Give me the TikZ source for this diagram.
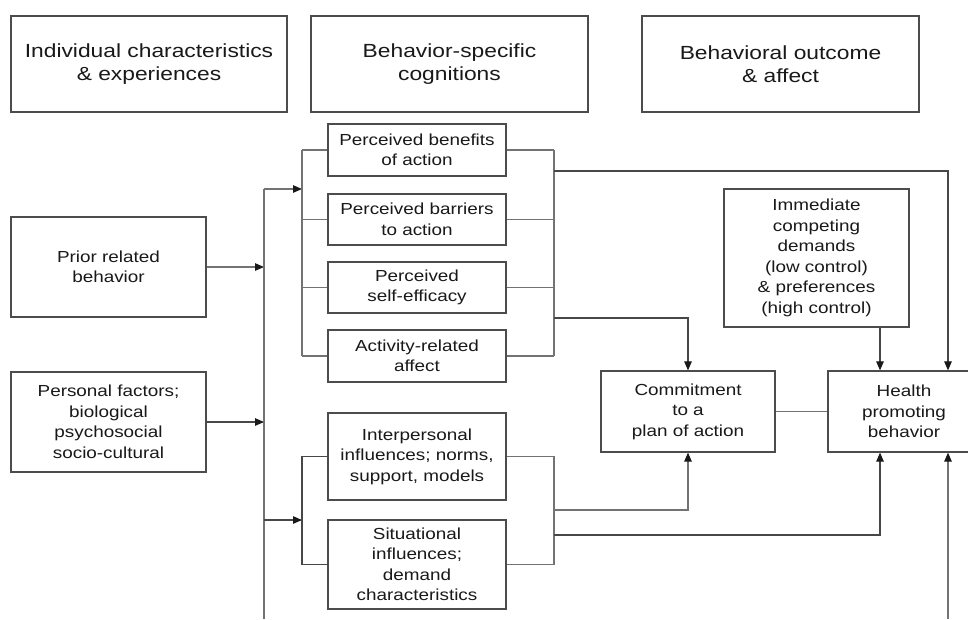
\documentclass[tikz,border=0pt]{standalone}
\usepackage{fontspec}
\setmainfont{Liberation Sans}
\newfontfamily\boxfont[FakeStretch=1.18]{Liberation Sans}
\newfontfamily\headfont[FakeStretch=1.2]{Liberation Sans}
\usetikzlibrary{arrows.meta}
\begin{document}
\begin{tikzpicture}[x=1pt,y=-1pt,
  box/.style={draw=black!70, line width=1.2pt, fill=white, align=center, inner sep=0pt,
    text=black!90, font={\boxfont\fontsize{16}{20.5}\selectfont}},
  headbox/.style={box, font={\headfont\fontsize{19}{23}\selectfont}},
  conn/.style={draw=black!55, line width=1.1pt},
  darkconn/.style={draw=black!72, line width=1.1pt},
  arr/.style={-{Triangle[length=9pt,width=7.5pt,color=black!90,fill=black!90]}}]
\useasboundingbox (0,0) rectangle (968,619);
\clip (0,0) rectangle (968,619);
\fill[white] (0,0) rectangle (968,619);

% header boxes
\node[headbox, minimum width=276pt, minimum height=96pt] (h1) at (149,64) {Individual characteristics\\\& experiences};
\node[headbox, minimum width=277pt, minimum height=96pt] (h2) at (449.5,64) {Behavior-specific\\cognitions};
\node[headbox, minimum width=277pt, minimum height=96pt] (h3) at (780.5,64) {Behavioral outcome\\\& affect};

% left column
\node[box, minimum width=195pt, minimum height=100pt] (prior) at (108.5,267) {Prior related\\behavior};
\node[box, minimum width=195pt, minimum height=100pt] (pers) at (108.5,422) {Personal factors;\\biological\\psychosocial\\socio-cultural};

% middle column
\node[box, minimum width=178pt, minimum height=52pt] (ben) at (417,150) {Perceived benefits\\of action};
\node[box, minimum width=178pt, minimum height=51pt] (bar) at (417,219.5) {Perceived barriers\\to action};
\node[box, minimum width=178pt, minimum height=51pt] (eff) at (417,287.5) {Perceived\\self-efficacy};
\node[box, minimum width=178pt, minimum height=52pt] (act) at (417,356) {Activity-related\\affect};
\node[box, minimum width=178pt, minimum height=87pt] (inter) at (417,456.5) {Interpersonal\\influences; norms,\\support, models};
\node[box, minimum width=178pt, minimum height=89pt] (sit) at (417,564.5) {Situational\\influences;\\demand\\characteristics};

% right column
\node[box, minimum width=185pt, minimum height=138pt] (imm) at (816.5,258) {Immediate\\competing\\demands\\(low control)\\\& preferences\\(high control)};
\node[box, minimum width=174pt, minimum height=81pt] (com) at (688,411.5) {Commitment\\to a\\plan of action};
\node[box, minimum width=152pt, minimum height=81pt] (hpb) at (904,411.5) {Health\\promoting\\behavior};

% trunk coordinates
\coordinate (tTop) at (264,189);
\coordinate (tBot) at (264,619);
\coordinate (b1t) at (302,150);
\coordinate (b1b) at (302,356);
\coordinate (r1t) at (554,150);
\coordinate (r1b) at (554,356);
\coordinate (b2t) at (302,456.5);
\coordinate (b2b) at (302,564.5);
\coordinate (r2t) at (554,456.5);
\coordinate (r2b) at (554,564.5);
\coordinate (bot) at (948,619);
\coordinate (hx) at (880,0);

% inputs to trunk
\draw[conn, arr] (prior.east) -- (prior.east -| tTop);
\draw[darkconn, arr] (pers.east) -- (pers.east -| tTop);
\draw[conn] (tTop) -- (tBot);
\draw[conn, arr] (tTop) -- (tTop -| b1t);
\draw[darkconn, arr] (264,520) -- (302,520);

% left bracket 1
\draw[conn] (b1t) -- (b1b);
\draw[conn] (b1t) -- (ben.west);
\draw[conn] (bar.west -| b1t) -- (bar.west);
\draw[conn] (eff.west -| b1t) -- (eff.west);
\draw[conn] (b1b) -- (act.west);
% right bracket 1
\draw[conn] (r1t) -- (r1b);
\draw[conn] (ben.east) -- (r1t);
\draw[conn] (bar.east) -- (bar.east -| r1t);
\draw[conn] (eff.east) -- (eff.east -| r1t);
\draw[conn] (act.east) -- (r1b);

% left bracket 2
\draw[darkconn] (inter.west) -- (b2t) -- (b2b) -- (sit.west);
% right bracket 2
\draw[conn] (inter.east) -- (r2t) -- (r2b) -- (sit.east);

% outputs
\draw[darkconn, arr] (554,171) -- (948,171) -- (hpb.north -| bot);
\draw[darkconn, arr] (554,318) -- (688,318) -- (com.north);
\draw[conn, arr] (554,510) -- (688,510) -- (com.south);
\draw[darkconn, arr] (554,535) -- (880,535) -- (hpb.south -| hx);
\draw[darkconn, arr] (imm.south -| hx) -- (hpb.north -| hx);
\draw[conn] (com.east) -- (hpb.west);
\draw[conn, arr] (bot) -- (hpb.south -| bot);
\end{tikzpicture}
\end{document}
